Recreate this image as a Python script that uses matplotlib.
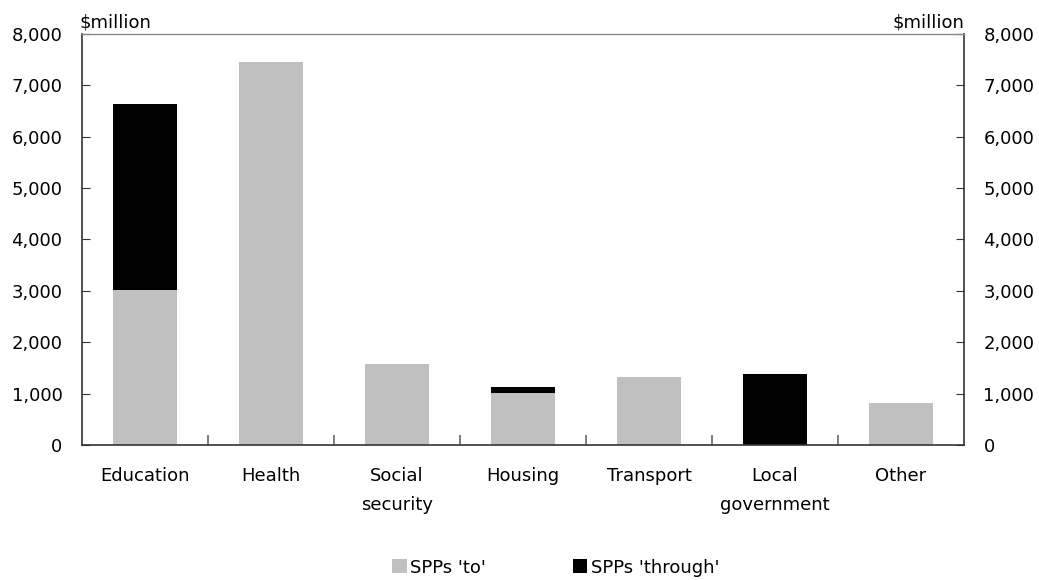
import matplotlib
matplotlib.use("Agg")
import matplotlib.pyplot as plt
import numpy as np

categories = ["Education", "Health", "Social\nsecurity", "Housing", "Transport", "Local\ngovernment", "Other"]
spp_to = [3015, 7455, 1575, 1005, 1315, 0, 822]
spp_through = [3620, 0, 0, 117, 0, 1388, 0]
yticks = [0, 1000, 2000, 3000, 4000, 5000, 6000, 7000, 8000]

plt.rcParams['font.family'] = ['DejaVu Sans']
fs = 13

fig = plt.figure(figsize=(10.39, 5.8), dpi=100)
ax = fig.add_axes([82/1039, 1-445/580, (964-82)/1039, (445-34)/580])

x = np.arange(len(categories))
w = 0.515
ax.bar(x, spp_to, w, color="#C0C0C0", label="SPPs 'to'")
ax.bar(x, spp_through, w, bottom=spp_to, color="#000000", label="SPPs 'through'")

ax.set_xlim(-0.5, len(categories) - 0.5)
ax.set_ylim(0, 8000)
ax.set_yticks(yticks)
ax.set_yticklabels([f"{v:,}" for v in yticks], fontsize=fs)
ax.tick_params(axis='y', direction='in', length=6, left=True, right=True,
               labelleft=True, labelright=True, pad=14, colors='#333333', labelcolor='black')

ax.set_xticks(x)
ax.set_xticklabels(categories, fontsize=fs, linespacing=1.75)
ax.tick_params(axis='x', length=0, pad=16)
ax.set_xticks(np.arange(0.5, len(categories) - 0.5, 1), minor=True)
ax.tick_params(axis='x', which='minor', direction='in', length=7, color='#666666', width=1.2)

for s in ['left', 'right', 'bottom']:
    ax.spines[s].set_color('#333333')
    ax.spines[s].set_linewidth(1.2)
ax.spines['top'].set_color('#888888')
ax.spines['top'].set_linewidth(1.0)

ax.text(-0.003, 1.005, "$million", transform=ax.transAxes, ha='left', va='bottom', fontsize=fs)
ax.text(1, 1.005, "$million", transform=ax.transAxes, ha='right', va='bottom', fontsize=fs)

fig.legend(loc='lower center', bbox_to_anchor=(0.535, -0.022), ncol=2, frameon=False,
           fontsize=fs, handlelength=0.8, handleheight=0.8, handletextpad=0.2, columnspacing=4.8)

fig.savefig("out.png", dpi=100)
